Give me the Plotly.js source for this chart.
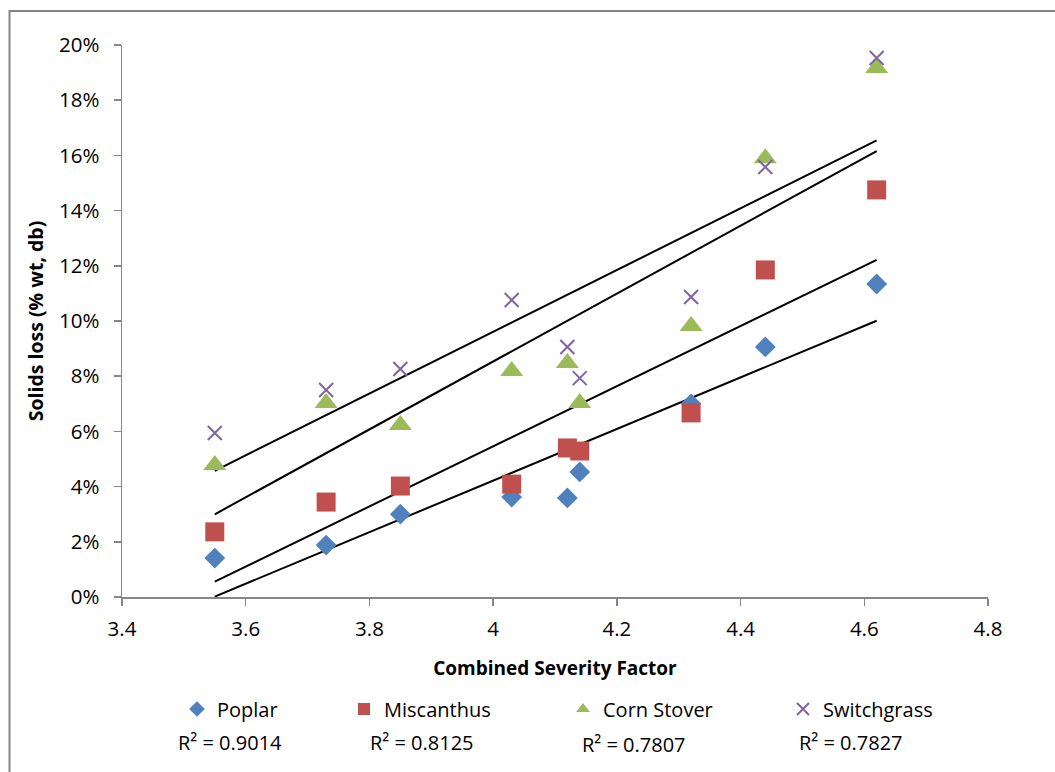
<!DOCTYPE html>
<html>
<head>
<meta charset="utf-8">
<script src="https://cdn.plot.ly/plotly-3.0.1.min.js"></script>
<style>html,body{margin:0;padding:0;background:#fff;}#chart{width:1055px;height:772px;}</style>
</head>
<body>
<div id="chart"></div>
<script>
// Data
const severity = [3.55, 3.73, 3.85, 4.03, 4.12, 4.14, 4.32, 4.44, 4.62];
const poplar      = [1.41, 1.88, 3.00, 3.62, 3.59, 4.53, 7.00, 9.06, 11.34];
const miscanthus  = [2.36, 3.44, 4.02, 4.09, 5.40, 5.29, 6.67, 11.85, 14.75];
const cornStover  = [4.78, 7.03, 6.23, 8.19, 8.48, 7.03, 9.82, 15.90, 19.17];
const switchgrass = [5.94, 7.50, 8.26, 10.76, 9.06, 7.93, 10.87, 15.58, 19.53];
const seriesNames = ['Poplar', 'Miscanthus', 'Corn Stover', 'Switchgrass'];
const rSquared = ['0.9014', '0.8125', '0.7807', '0.7827'];
const yTickVals = [0, 2, 4, 6, 8, 10, 12, 14, 16, 18, 20];
const xTickVals = [3.4, 3.6, 3.8, 4.0, 4.2, 4.4, 4.6, 4.8];
const xTickText = ['3.4', '3.6', '3.8', '4', '4.2', '4.4', '4.6', '4.8'];

const FONT = 'Open Sans, Lato, sans-serif';
const colors = ['#4F81BD', '#C0504D', '#9BBB59', '#8064A2'];
const symbols = ['diamond', 'square', 'triangle-up', 'x-thin-open'];
const sizes = [16, 19, 20, 14];
const allY = [poplar, miscanthus, cornStover, switchgrass];

function linFit(x, y) {
  const n = x.length;
  const mx = x.reduce((a, b) => a + b, 0) / n;
  const my = y.reduce((a, b) => a + b, 0) / n;
  let sxy = 0, sxx = 0;
  for (let i = 0; i < n; i++) { sxy += (x[i] - mx) * (y[i] - my); sxx += (x[i] - mx) ** 2; }
  const b = sxy / sxx;
  return { a: my - b * mx, b: b };
}

const traces = [];
const xmin = Math.min(...severity), xmax = Math.max(...severity);
allY.forEach((ys, i) => {
  const f = linFit(severity, ys);
  traces.push({
    x: [xmin, xmax], y: [f.a + f.b * xmin, f.a + f.b * xmax],
    mode: 'lines', line: { color: '#000', width: 2 },
    showlegend: false, hoverinfo: 'skip', cliponaxis: true
  });
});
allY.forEach((ys, i) => {
  traces.push({
    x: severity, y: ys, name: seriesNames[i], type: 'scatter', mode: 'markers',
    marker: {
      color: colors[i], size: sizes[i], symbol: symbols[i],
      line: i === 3 ? { color: colors[i], width: 2 } : { width: 0 }
    },
    legend: i === 0 ? 'legend' : 'legend' + (i + 1),
    cliponaxis: false
  });
});

const L = 122, R = 988, T = 45, B = 597;
const W = R - L, H = B - T;
const px = (p) => (p - L) / W;
const py = (p) => (B - p) / H;

const legendX = [197, 364, 583, 803];
const legendY = 709;
const legFont = { family: FONT, size: 20, color: '#000' };
const legends = {};
legendX.forEach((xc, i) => {
  const key = i === 0 ? 'legend' : 'legend' + (i + 1);
  legends[key] = {
    x: px(xc - 20), y: py(legendY), xanchor: 'left', yanchor: 'middle',
    orientation: 'h', font: legFont, bgcolor: 'rgba(0,0,0,0)',
    itemsizing: 'constant', borderwidth: 0, itemclick: false
  };
});

const r2x = [230, 422, 634, 851];
const r2y = [742, 742, 744, 742];
const annotations = rSquared.map((r, i) => ({
  xref: 'paper', yref: 'paper', x: px(r2x[i]), y: py(r2y[i]),
  xanchor: 'center', yanchor: 'middle', showarrow: false,
  text: 'R² = ' + r, font: legFont
}));

const layout = Object.assign({
  width: 1055, height: 772,
  margin: { l: L, r: 1055 - R, t: T, b: 772 - B, pad: 0 },
  paper_bgcolor: '#fff', plot_bgcolor: '#fff',
  font: { family: FONT, color: '#000' },
  xaxis: {
    range: [3.4, 4.8], tickvals: xTickVals, ticktext: xTickText,
    showgrid: false, zeroline: false, showline: true, linecolor: '#868686', linewidth: 1.5,
    ticks: 'outside', ticklen: 7, tickcolor: '#868686', tickwidth: 1.5, ticklabelstandoff: 6,
    tickfont: { family: FONT, size: 20.5, color: '#000' },
    title: { text: '<b>Combined Severity Factor</b>', font: { family: FONT, size: 19, color: '#000' }, standoff: 20 }
  },
  yaxis: {
    range: [0, 20], tickvals: yTickVals, ticktext: yTickVals.map(v => v + '%'),
    showgrid: false, zeroline: false, showline: true, linecolor: '#868686', linewidth: 1.5,
    ticks: 'outside', ticklen: 7, tickcolor: '#868686', tickwidth: 1.5, ticklabelstandoff: 10,
    tickfont: { family: FONT, size: 20.5, color: '#000' },
    title: { text: '<b>Solids loss (% wt, db)</b>', font: { family: FONT, size: 19.5, color: '#000' }, standoff: 10 }
  },
  annotations: annotations,
  shapes: [{
    type: 'rect', xref: 'paper', yref: 'paper',
    x0: px(9.5), x1: px(1075), y0: py(790), y1: py(11),
    line: { color: '#868686', width: 2 }, fillcolor: 'rgba(0,0,0,0)', layer: 'below'
  }]
}, legends);

Plotly.newPlot('chart', traces, layout, { displayModeBar: false, staticPlot: true });
</script>
</body>
</html>
